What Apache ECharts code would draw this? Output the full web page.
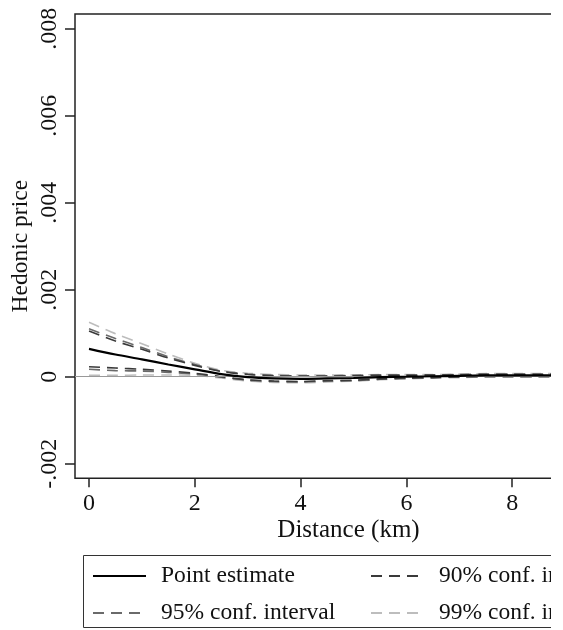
<!DOCTYPE html>
<html>
<head>
<meta charset="utf-8">
<script src="https://cdn.jsdelivr.net/npm/echarts@6/dist/echarts.min.js"></script>
<style>html,body{margin:0;padding:0;background:#fff;}#c{width:563px;height:630px;}</style>
</head>
<body>
<div id="c"></div>
<script>
// Distance (km)
var distance = [0,0.5,1,1.5,2,2.5,3,3.5,4,4.5,5,5.5,6,6.5,7,7.5,8,8.5,9,9.5,10];
// Point estimate
var pointEst = [0.00064,0.00051,0.00040,0.00028,0.00017,0.00006,-0.00001,-0.00004,-0.00005,-0.00004,-0.00003,-0.00001,0.00000,0.00001,0.00002,0.00003,0.00003,0.00003,0.00003,0.00003,0.00003];
// 90% CI
var upper90 = [0.00105,0.00082,0.00063,0.00043,0.00026,0.00012,0.00005,0.00002,0.00001,0.00001,0.00002,0.00003,0.00003,0.00004,0.00004,0.00005,0.00005,0.00005,0.00005,0.00005,0.00005];
var lower90 = [0.00023,0.00020,0.00017,0.00013,0.00008,0.00000,-0.00007,-0.00010,-0.00011,-0.00009,-0.00008,-0.00005,-0.00003,-0.00002,0.00000,0.00001,0.00001,0.00001,0.00001,0.00001,0.00001];
// 95% CI
var upper95 = [0.00110,0.00088,0.00067,0.00046,0.00028,0.00013,0.00006,0.00003,0.00002,0.00002,0.00003,0.00004,0.00004,0.00004,0.00005,0.00006,0.00006,0.00006,0.00006,0.00006,0.00006];
var lower95 = [0.00017,0.00014,0.00013,0.00010,0.00006,-0.00001,-0.00008,-0.00011,-0.00012,-0.00010,-0.00009,-0.00006,-0.00004,-0.00002,-0.00001,0.00000,0.00000,0.00000,0.00000,0.00000,0.00000];
// 99% CI
var upper99 = [0.00125,0.00099,0.00076,0.00052,0.00031,0.00015,0.00008,0.00005,0.00004,0.00004,0.00004,0.00005,0.00005,0.00005,0.00006,0.00007,0.00007,0.00007,0.00007,0.00007,0.00007];
var lower99 = [0.00003,0.00003,0.00004,0.00004,0.00003,-0.00003,-0.00010,-0.00013,-0.00014,-0.00012,-0.00010,-0.00007,-0.00005,-0.00003,-0.00002,-0.00001,-0.00001,-0.00001,-0.00001,-0.00001,-0.00001];
// tick labels
var xTicks = [0,2,4,6,8,10];
var yTicks = [-0.002,0,0.002,0.004,0.006,0.008];
var yTickLabels = ['-.002','0','.002','.004','.006','.008'];

var FONT = 'Liberation Serif';
function pairs(ys){ return distance.map(function(x,i){ return [x, ys[i]]; }); }
var dash = [11,7];
function band(name, data, color){
  return {name:name, type:'line', data:pairs(data), symbol:'none', smooth:0.3,
    lineStyle:{color:color, width:1.6, type:dash}, itemStyle:{color:color}, z:3};
}
var legendCommon = {orient:'vertical', top:564, padding:0, itemWidth:53, itemHeight:22, itemGap:13,
  itemStyle:{opacity:0, borderWidth:0},
  textStyle:{fontFamily:FONT, fontSize:23.5, color:'#111', padding:[0,0,0,10]}};
var chart = echarts.init(document.getElementById('c'), null, {renderer:'canvas'});
chart.setOption({
  animation:false,
  backgroundColor:'#fff',
  grid:{left:75, top:14, width:547, height:464.3, show:true, borderColor:'#222', borderWidth:1.5,
    backgroundColor:'transparent', outerBoundsMode:'none', containLabel:false},
  xAxis:{type:'value', min:-0.265, max:10.075,
    axisLine:{show:false, onZero:false},
    axisTick:{show:true, inside:false, length:9, lineStyle:{color:'#222', width:1.5}, customValues:xTicks},
    axisLabel:{fontFamily:FONT, fontSize:24, color:'#111', margin:13, customValues:xTicks},
    splitLine:{show:false},
    name:'Distance (km)', nameLocation:'middle', nameGap:40, nameMoveOverlap:false,
    nameTextStyle:{fontFamily:FONT, fontSize:25, color:'#111'}},
  yAxis:{type:'value', min:-0.002336, max:0.00834,
    axisLine:{show:false, onZero:false},
    axisTick:{show:true, inside:false, length:10, lineStyle:{color:'#222', width:1.5}, customValues:yTicks},
    axisLabel:{fontFamily:FONT, fontSize:24, color:'#111', margin:13, rotate:90, customValues:yTicks,
      formatter:function(v){ for(var i=0;i<yTicks.length;i++){ if(Math.abs(v-yTicks[i])<1e-9) return yTickLabels[i]; } return ''; }},
    splitLine:{show:false},
    name:'Hedonic price', nameLocation:'middle', nameGap:42, nameRotate:90, nameMoveOverlap:false,
    nameTextStyle:{fontFamily:FONT, fontSize:23.5, color:'#111'}},
  legend:[
    Object.assign({data:['Point estimate','95% conf. interval'], left:92}, legendCommon),
    Object.assign({data:['90% conf. interval','99% conf. interval'], left:370}, legendCommon)
  ],
  series:[
    {name:'zero', type:'line', data:[], markLine:{silent:true, symbol:'none', label:{show:false},
      lineStyle:{color:'#999', width:1, type:'solid'}, data:[{yAxis:0}]}, z:1},
    band('99% conf. interval', upper99, '#bdbdbd'),
    band('99% conf. interval', lower99, '#bdbdbd'),
    band('95% conf. interval', upper95, '#6a6a6a'),
    band('95% conf. interval', lower95, '#6a6a6a'),
    band('90% conf. interval', upper90, '#3a3a3a'),
    band('90% conf. interval', lower90, '#3a3a3a'),
    {name:'Point estimate', type:'line', data:pairs(pointEst), symbol:'none', smooth:0.3,
      lineStyle:{color:'#000', width:2.2, type:'solid'}, itemStyle:{color:'#000'}, z:5}
  ],
  graphic:[
    {type:'rect', shape:{x:83.5, y:555.5, width:600, height:72}, style:{fill:'none', stroke:'#333', lineWidth:1}, z:1},
    {type:'rect', shape:{x:551, y:0, width:20, height:630}, style:{fill:'#fff'}, z:200}
  ]
});
</script>
</body>
</html>
